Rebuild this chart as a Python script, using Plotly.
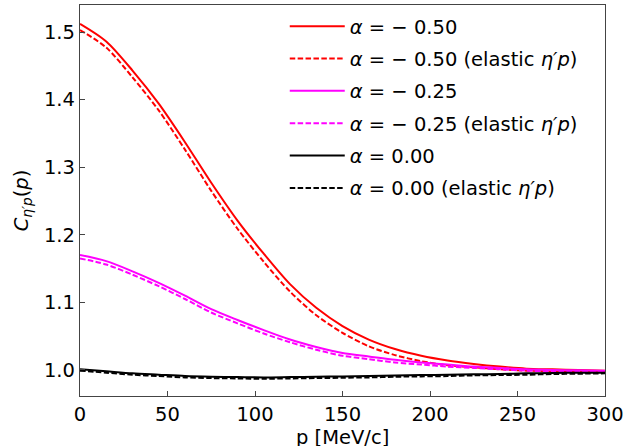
import plotly.graph_objects as go

p = [0, 15, 30, 45, 60, 75, 90, 105, 120, 135, 150, 165, 180, 195, 210, 225, 240, 255, 270, 285, 300]

c_m050 = [1.512, 1.486, 1.443, 1.394, 1.337, 1.277, 1.221, 1.172, 1.127, 1.092, 1.065, 1.045, 1.031,
          1.021, 1.014, 1.009, 1.005, 1.002, 1.001, 1.000, 0.999]
c_m050_el = [1.503, 1.477, 1.433, 1.384, 1.326, 1.265, 1.209, 1.160, 1.116, 1.081, 1.055, 1.035, 1.022,
             1.013, 1.007, 1.004, 1.001, 0.999, 0.998, 0.998, 0.998]
c_m025 = [1.170, 1.161, 1.146, 1.129, 1.110, 1.090, 1.074, 1.059, 1.045, 1.034, 1.025, 1.020, 1.015,
          1.011, 1.008, 1.005, 1.003, 1.001, 1.000, 0.9995, 0.999]
c_m025_el = [1.165, 1.156, 1.141, 1.124, 1.105, 1.085, 1.069, 1.054, 1.041, 1.030, 1.021, 1.016, 1.011,
             1.008, 1.005, 1.003, 1.001, 0.999, 0.998, 0.998, 0.998]
c_000 = [1.001, 0.998, 0.995, 0.993, 0.991, 0.990, 0.9895, 0.989, 0.9895, 0.990, 0.9905, 0.991, 0.992,
         0.9925, 0.993, 0.9935, 0.994, 0.995, 0.9955, 0.996, 0.996]
c_000_el = [0.999, 0.996, 0.993, 0.991, 0.989, 0.988, 0.9875, 0.987, 0.9875, 0.988, 0.9885, 0.989, 0.990,
            0.9905, 0.991, 0.992, 0.9925, 0.993, 0.994, 0.9945, 0.995]

labels = [
    "<i>α</i> = − 0.50",
    "<i>α</i> = − 0.50 (elastic <i>η′p</i>)",
    "<i>α</i> = − 0.25",
    "<i>α</i> = − 0.25 (elastic <i>η′p</i>)",
    "<i>α</i> = 0.00",
    "<i>α</i> = 0.00 (elastic <i>η′p</i>)",
]
series = [c_m050, c_m050_el, c_m025, c_m025_el, c_000, c_000_el]
colors = ["#ff0000", "#ff0000", "#ff00ff", "#ff00ff", "#000000", "#000000"]
dashes = ["solid", "5.5px,2.4px", "solid", "5.5px,2.4px", "solid", "5.5px,2.4px"]
x_title = "p [MeV/c]"

fig = go.Figure()
for i, (lab, ys, col, d) in enumerate(zip(labels, series, colors, dashes)):
    fig.add_trace(go.Scatter(x=p, y=ys, mode="lines", name=lab, legendgroup=str(i),
                             line=dict(color=col, width=2, dash=d, shape="spline", smoothing=0.8)))

font = "DejaVu Sans"
fs = 19.5
axis_common = dict(showline=True, mirror=True, linecolor="#444", linewidth=1.3,
                   ticks="inside", ticklen=5, tickcolor="#444", tickwidth=1.2,
                   showgrid=False, zeroline=False,
                   tickfont=dict(family=font, size=fs, color="black"))

fig.update_layout(
    width=635, height=446,
    margin=dict(l=80, r=30, t=5, b=50),
    paper_bgcolor="white", plot_bgcolor="white",
    font=dict(family=font, color="black"),
    showlegend=True,
    legend=dict(x=0.39, y=0.995, xanchor="left", yanchor="top",
                bgcolor="rgba(255,255,255,0)", borderwidth=0,
                font=dict(family=font, size=fs, color="black"),
                tracegroupgap=4, itemwidth=55),
    xaxis=dict(range=[0, 300], tickvals=[0, 50, 100, 150, 200, 250, 300],
               automargin=False, **axis_common),
    yaxis=dict(range=[0.9615, 1.54], tickvals=[1.0, 1.1, 1.2, 1.3, 1.4, 1.5],
               ticktext=["1.0", "1.1", "1.2", "1.3", "1.4", "1.5"],
               title=dict(text="<i>C</i><sub><i>η′p</i></sub>(<i>p</i>)",
                          font=dict(family=font, size=fs), standoff=10),
               automargin=False, **axis_common),
    annotations=[dict(text=x_title, xref="paper", yref="paper", x=0.5, y=-0.072,
                      xanchor="center", yanchor="top", showarrow=False,
                      font=dict(family=font, size=fs, color="black"))],
)

fig.write_html("out.html", config={"displayModeBar": False},
               post_script="document.body.style.margin='0';")
